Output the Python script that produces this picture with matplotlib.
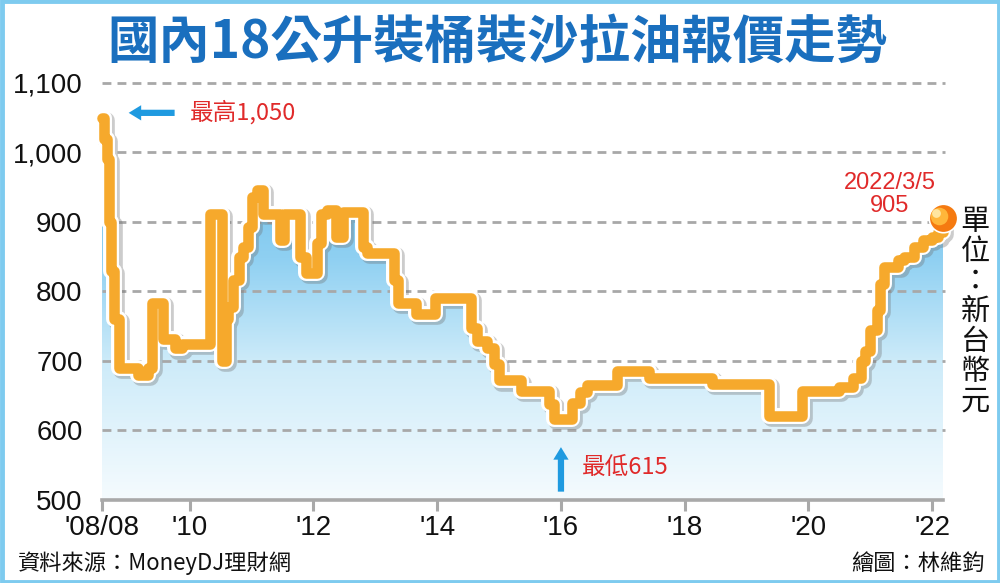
import numpy as np
import pandas as pd
import matplotlib
matplotlib.use("Agg")
import matplotlib.pyplot as plt
import matplotlib.dates as mdates
import matplotlib.patheffects as pe
from matplotlib.patches import Rectangle
from matplotlib.colors import LinearSegmentedColormap

# ---------------- data ----------------
dates = ["2008-08-01", "2008-08-15", "2008-08-29", "2008-09-12", "2008-09-26",
         "2008-10-10", "2008-11-10", "2009-03-01", "2009-05-01", "2009-05-25",
         "2009-07-25", "2009-10-08", "2009-11-18", "2010-05-01", "2010-07-08",
         "2010-08-01", "2010-08-15", "2010-09-12", "2010-10-20", "2010-11-10",
         "2010-12-10", "2011-01-01", "2011-01-30", "2011-03-08", "2011-06-15",
         "2011-07-12", "2011-10-12", "2011-11-18", "2012-01-20", "2012-02-14",
         "2012-03-22", "2012-05-12", "2012-06-25", "2012-10-20", "2012-11-10",
         "2013-04-20", "2013-05-15", "2013-08-30", "2013-12-20", "2014-07-20",
         "2014-08-25", "2014-10-20", "2014-12-01", "2015-01-01", "2015-05-08",
         "2015-10-20", "2015-11-18", "2016-03-08", "2016-04-20", "2016-06-03",
         "2016-11-25", "2017-06-03", "2018-06-10", "2019-05-12", "2019-11-25",
         "2020-07-01", "2020-09-20", "2020-11-06", "2020-12-01", "2021-01-01",
         "2021-02-06", "2021-02-28", "2021-03-22", "2021-06-15", "2021-07-20",
         "2021-09-12", "2021-11-06", "2022-01-01", "2022-02-06", "2022-03-05"]
prices = [1050, 1020, 990, 900, 830,
          760, 690, 680, 690, 783,
          732, 718, 725, 912, 700,
          760, 777, 816, 850, 864,
          893, 936, 946, 912, 874,
          912, 849, 826, 870, 912,
          917, 878, 914, 864, 855,
          816, 783, 768, 791, 748,
          729, 719, 696, 672, 657,
          638, 617, 640, 655, 665,
          685, 676, 667, 621, 657,
          662, 676, 700, 715, 744,
          773, 811, 835, 845, 850,
          864, 874, 879, 885, 905]

tick_dates = ["2008-08-01", "2010-01-01", "2012-01-01", "2014-01-01",
              "2016-01-01", "2018-01-01", "2020-01-01", "2022-01-01"]
tick_labels = ["'08/08", "'10", "'12", "'14", "'16", "'18", "'20", "'22"]
y_ticks = [500, 600, 700, 800, 900, 1000, 1100]
y_labels = ["500", "600", "700", "800", "900", "1,000", "1,100"]

title = "國內18公升裝桶裝沙拉油報價走勢"
high_label = "最高1,050"
low_label = "最低615"
last_label = "2022/3/5\n905"
unit_label = "單位：新台幣元"
source_label = "資料來源：MoneyDJ理財網"
credit_label = "繪圖：林維鈞"

# ---------------- figure ----------------
CJK = ["Noto Sans CJK TC", "DejaVu Sans"]
NUM = ["Liberation Sans", "DejaVu Sans"]
plt.rcParams["font.family"] = CJK

fig = plt.figure(figsize=(10, 5.83), dpi=100)
fig.patch.set_facecolor("white")

ax = fig.add_axes([0.102, 0.1424, 0.841, 0.7153])
ax.set_facecolor("none")

x = pd.to_datetime(dates)
xn = mdates.date2num(x)
y = np.array(prices, dtype=float)

x0 = mdates.date2num(pd.Timestamp("2008-08-01"))
x1 = mdates.date2num(pd.Timestamp("2022-03-05"))

# grid
for v in y_ticks[1:]:
    ax.plot([x0, x1 + 10], [v, v], color="#a8a8a8", lw=2.0,
            dashes=(3.2, 2.2), zorder=1, clip_on=False)

# gradient fill under line
poly = ax.fill_between(xn, y, 500, step="post", color="none", lw=0)
grad = np.linspace(0, 1, 256).reshape(-1, 1)
cmap = LinearSegmentedColormap.from_list(
    "g", [(0.0, "#f5fbfe"), (0.33, "#cdebf9"), (0.58, "#8fd0f2"), (1.0, "#5ab6e6")])
im = ax.imshow(grad, cmap=cmap, aspect="auto",
               extent=[x0, x1, 500, 1100], origin="lower", zorder=0.5)
im.set_clip_path(poly.get_paths()[0], transform=ax.transData)
ax.set_xlim(x0, x1)
ax.set_ylim(500, 1100)

# line
ln, = ax.step(xn, y, where="post", color="#f6a92c", lw=7.6, zorder=3,
              solid_joinstyle="round", solid_capstyle="round", clip_on=False)
ln.set_path_effects([
    pe.SimpleLineShadow(offset=(1.5, -1.5), shadow_color="#6f6f6f", alpha=0.35, linewidth=12),
    pe.Stroke(linewidth=11.5, foreground="white"),
    pe.Normal()])

# end dot
ax.scatter([xn[-1]], [y[-1]], s=420, color="#f57a10", edgecolor="white",
           linewidth=1.2, zorder=5, clip_on=False)
ax.scatter([xn[-1] - 25], [y[-1] + 4], s=160, color="#ffb63a", zorder=6,
           clip_on=False, linewidth=0)
ax.scatter([xn[-1] - 42], [y[-1] + 8], s=40, color="#ffe6a0", zorder=7,
           clip_on=False, linewidth=0)

# axes styling
for s in ["left", "right", "top"]:
    ax.spines[s].set_visible(False)
ax.spines["bottom"].set_color("#a9a9a9")
ax.spines["bottom"].set_linewidth(2.6)
ax.spines["bottom"].set_zorder(4)

ax.set_xticks(mdates.date2num(pd.to_datetime(tick_dates)))
ax.set_xticklabels(tick_labels, family=NUM, fontsize=20, color="#111111")
ax.tick_params(axis="x", length=8, width=2.2, color="#a9a9a9", pad=3)
ax.set_yticks(y_ticks)
ax.set_yticklabels(y_labels, family=NUM, fontsize=20, color="#111111")
ax.tick_params(axis="y", length=0, pad=14)

# title
fig.text(0.497, 0.928, title, ha="center", va="center", fontsize=37,
         fontweight="bold", color="#1a6fbe", family=CJK)

# high annotation
arrow_style = "simple,head_length=0.9,head_width=1.1,tail_width=0.45"
t_hi0 = mdates.date2num(pd.Timestamp("2009-10-20"))
t_hi1 = mdates.date2num(pd.Timestamp("2008-12-20"))
ax.annotate("", xy=(t_hi1, 1057), xytext=(t_hi0, 1057),
            arrowprops=dict(arrowstyle=arrow_style, color="#1f9ae0", lw=0),
            annotation_clip=False)
ax.text(mdates.date2num(pd.Timestamp("2010-01-01")), 1057, high_label,
        color="#e02a2a", fontsize=17, va="center", ha="left", family=CJK)

# low annotation
t_lo = mdates.date2num(pd.Timestamp("2016-01-01"))
ax.annotate("", xy=(t_lo, 580), xytext=(t_lo, 508),
            arrowprops=dict(arrowstyle=arrow_style, color="#1f9ae0", lw=0),
            annotation_clip=False)
ax.text(mdates.date2num(pd.Timestamp("2016-05-01")), 547, low_label,
        color="#e02a2a", fontsize=17, va="center", ha="left", family=CJK)

# last annotation
ax.text(mdates.date2num(pd.Timestamp("2021-04-25")), 940, last_label,
        color="#e02a2a", fontsize=17, va="center", ha="center",
        linespacing=1.05, family=NUM)

# unit vertical text
fig.text(0.975, 0.465, "\n".join(unit_label), ha="center", va="center",
         fontsize=21, color="#111111", linespacing=1.0, family=CJK)

# footer
fig.text(0.018, 0.034, source_label, ha="left", va="center", fontsize=16,
         color="#111111", family=CJK)
fig.text(0.985, 0.034, credit_label, ha="right", va="center", fontsize=16,
         color="#111111", family=CJK)

# border
fig.patches.append(Rectangle((0.0015, 0.0025), 0.997, 0.995, transform=fig.transFigure,
                             fill=False, edgecolor="#7ecbef", lw=3.5))

fig.savefig("out.png", dpi=100, facecolor="white")
